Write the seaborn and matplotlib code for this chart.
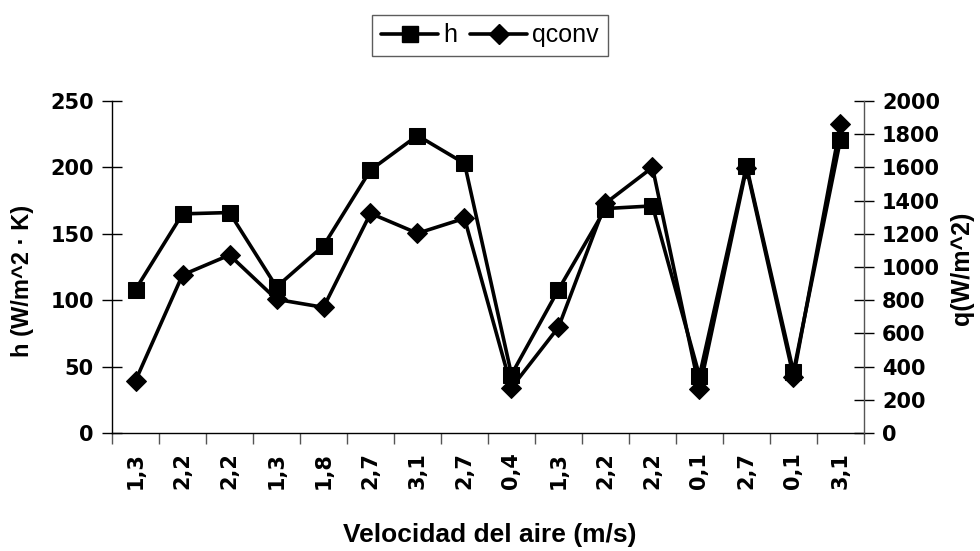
import matplotlib
matplotlib.use("Agg")
import matplotlib.pyplot as plt
import seaborn as sns
import pandas as pd
import numpy as np
from matplotlib.lines import Line2D

categories = ["1,3", "2,2", "2,2", "1,3", "1,8", "2,7", "3,1", "2,7",
              "0,4", "1,3", "2,2", "2,2", "0,1", "2,7", "0,1", "3,1"]
h_values = [108, 165, 166, 110, 141, 198, 224, 203,
            44, 108, 169, 171, 43, 201, 46, 221]
q_values = [315, 952, 1072, 805, 757, 1323, 1203, 1293,
            273, 637, 1384, 1600, 263, 1596, 339, 1860]

sns.set_theme(style="white")
plt.rcParams['font.family'] = ['Liberation Sans', 'DejaVu Sans']
plt.rcParams['text.color'] = 'black'
plt.rcParams['axes.labelcolor'] = 'black'
plt.rcParams['xtick.color'] = 'black'
plt.rcParams['ytick.color'] = 'black'

df = pd.DataFrame({"pos": np.arange(len(categories)), "h": h_values, "q": q_values})

fig = plt.figure(figsize=(9.8, 5.51), dpi=100)
ax = fig.add_axes([0.1143, 0.2142, 0.7673, 0.6025])
ax2 = ax.twinx()

sns.lineplot(data=df, x="pos", y="h", ax=ax, color="black", linewidth=2.6,
             marker="s", markersize=11, markeredgecolor="black", zorder=3)
sns.lineplot(data=df, x="pos", y="q", ax=ax2, color="black", linewidth=2.6,
             marker="D", markersize=10, markeredgecolor="black", zorder=3)

ax.set_xlim(-0.5, len(categories) - 0.5)
ax.set_ylim(0, 250)
ax2.set_ylim(0, 2000)
ax.set_yticks(np.arange(0, 251, 50))
ax2.set_yticks(np.arange(0, 2001, 200))

tick_font = dict(family="DejaVu Sans", weight="bold", size=15, color="black")

ax.set_xticks(np.arange(len(categories)))
ax.set_xticklabels(categories, rotation=90, fontdict=tick_font)
ax.set_xticks(np.arange(-0.5, len(categories), 1.0), minor=True)
ax.tick_params(axis="x", which="major", length=0, pad=14)
ax.tick_params(axis="x", which="minor", length=8, width=1, color="#555555", direction="out", bottom=True)

ax.tick_params(axis="y", which="major", length=14, width=1,
               direction="inout", left=True, color="black", pad=6)
ax2.tick_params(axis="y", which="major", length=14, width=1,
                direction="inout", right=True, color="black", pad=6)
ax.set_yticklabels([str(v) for v in np.arange(0, 251, 50)], fontdict=tick_font)
ax2.set_yticklabels([str(v) for v in np.arange(0, 2001, 200)], fontdict=tick_font)

for a in (ax, ax2):
    a.spines["top"].set_visible(False)
    for s in ("left", "right", "bottom"):
        a.spines[s].set_color("black")
        a.spines[s].set_linewidth(1.0)
ax.spines["right"].set_visible(False)
ax2.spines["left"].set_visible(False)
ax2.spines["bottom"].set_visible(False)
ax2.spines["right"].set_color("#555555")

ax.set_xlabel("Velocidad del aire (m/s)", fontsize=19, fontweight="bold", color="black")
ax.xaxis.set_label_coords(0.503, -0.307)
ax.xaxis.label.set_va("center")
ax.set_ylabel("h (W/m^2 · K)", fontsize=17, fontweight="bold", color="black")
ax.yaxis.set_label_coords(-0.1197, 0.458)
ax.yaxis.label.set_va("center")
ax2.set_ylabel("q(W/m^2)", fontsize=18, fontweight="bold", color="black")
ax2.yaxis.set_label_coords(1.130, 0.497)
ax2.yaxis.label.set_va("center")
ax2.yaxis.label.set_rotation(90)
ax.grid(False)
ax2.grid(False)

handles = [Line2D([], [], color="black", lw=2.6, marker="s", markersize=11),
           Line2D([], [], color="black", lw=2.6, marker="D", markersize=10)]
leg = fig.legend(handles, ["h", "qconv"], loc="center", bbox_to_anchor=(0.5, 0.936),
                 ncol=2, frameon=True, fancybox=False, fontsize=18, handlelength=2.3,
                 columnspacing=0.5, handletextpad=0.2, borderpad=0.35,
                 labelcolor="black")
leg.get_frame().set_edgecolor("#333333")
leg.get_frame().set_linewidth(1.0)

fig.savefig("out.png", dpi=100)
